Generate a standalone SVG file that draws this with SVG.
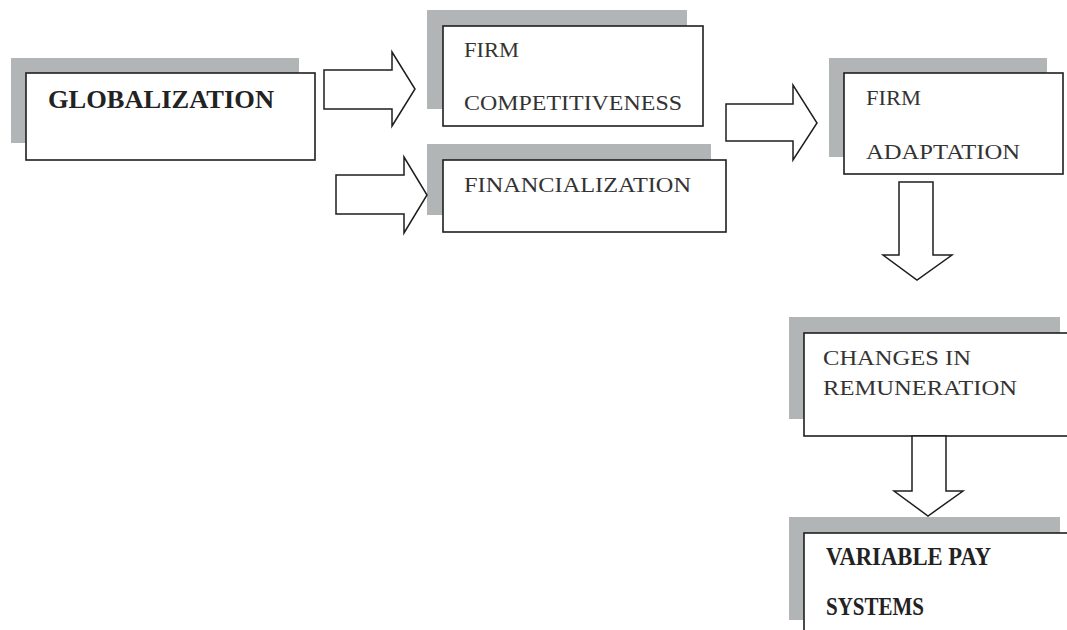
<svg xmlns="http://www.w3.org/2000/svg" width="1067" height="630" viewBox="0 0 1067 630">
<style>
.sh{fill:#b2b5b5}
.bx{fill:#fff;stroke:#1e1e1e;stroke-width:1.6}
.ar{fill:#fff;stroke:#1e1e1e;stroke-width:1.5;stroke-linejoin:miter}
.t{font-family:"Liberation Serif",serif;font-size:21px;fill:#333}
.b{font-family:"Liberation Serif",serif;font-size:25px;font-weight:bold;fill:#222}
</style>
<rect width="1067" height="630" fill="#fff"/>
<g id="globalization">
<rect class="sh" x="11" y="58" width="288" height="85"/>
<rect class="bx" x="26" y="73" width="289" height="87"/>
<text class="b" x="48" y="108" textLength="226" lengthAdjust="spacingAndGlyphs">GLOBALIZATION</text>
</g>
<g id="firm-competitiveness">
<rect class="sh" x="427" y="10" width="260" height="99"/>
<rect class="bx" x="443" y="26" width="260" height="100"/>
<text class="t" x="464" y="57" textLength="55" lengthAdjust="spacingAndGlyphs">FIRM</text>
<text class="t" x="464" y="110" textLength="218" lengthAdjust="spacingAndGlyphs">COMPETITIVENESS</text>
</g>
<g id="financialization">
<rect class="sh" x="427" y="144" width="284" height="71"/>
<rect class="bx" x="443" y="160" width="283" height="72"/>
<text class="t" x="464" y="192" textLength="227" lengthAdjust="spacingAndGlyphs">FINANCIALIZATION</text>
</g>
<g id="firm-adaptation">
<rect class="sh" x="829" y="58" width="218" height="99"/>
<rect class="bx" x="844" y="73" width="219" height="101"/>
<text class="t" x="866" y="105" textLength="55" lengthAdjust="spacingAndGlyphs">FIRM</text>
<text class="t" x="866" y="159" textLength="154" lengthAdjust="spacingAndGlyphs">ADAPTATION</text>
</g>
<g id="changes-in-remuneration">
<rect class="sh" x="789" y="317" width="271" height="102"/>
<rect class="bx" x="804" y="333" width="270" height="103"/>
<text class="t" x="823" y="365" textLength="148" lengthAdjust="spacingAndGlyphs">CHANGES IN</text>
<text class="t" x="823" y="395" textLength="194" lengthAdjust="spacingAndGlyphs">REMUNERATION</text>
</g>
<g id="variable-pay-systems">
<rect class="sh" x="789" y="517" width="271" height="103"/>
<rect class="bx" x="804" y="533" width="270" height="110"/>
<text class="b" x="826" y="565" textLength="165" lengthAdjust="spacingAndGlyphs">VARIABLE PAY</text>
<text class="b" x="826" y="615" textLength="98" lengthAdjust="spacingAndGlyphs">SYSTEMS</text>
</g>
<g id="connectors">
<polygon class="ar" points="324,70 392,70 392,52 415,89 392,126 392,109 324,109"/>
<polygon class="ar" points="336,175 404,175 404,157 427,195 404,233 404,214 336,214"/>
<polygon class="ar" points="726,104 793,104 793,85 817,123 793,160 793,141 726,141"/>
<polygon class="ar" points="899,182 933,182 933,255 952,255 917,280 883,255 899,255"/>
<polygon class="ar" points="912,436 946,436 946,491 963,491 928,516 894,491 912,491"/>
</g>
</svg>
